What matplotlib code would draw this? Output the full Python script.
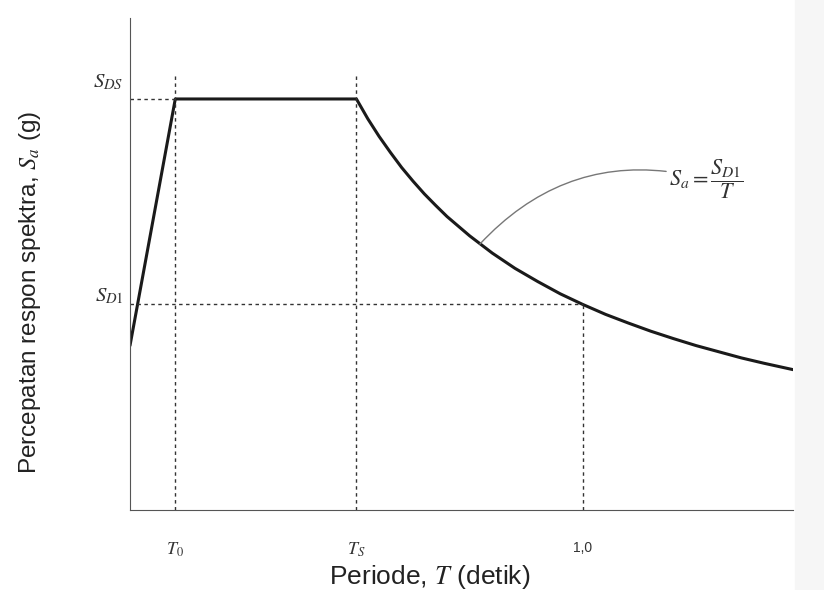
import matplotlib.pyplot as plt
from matplotlib.patches import Rectangle

plt.rcParams['mathtext.fontset'] = 'stix'
plt.rcParams['font.family'] = 'Liberation Sans'

# nilai (SDS = 1, SD1 = 0.5)
periode = [0, 0.1, 0.5, 0.525, 0.55, 0.575, 0.6, 0.625, 0.65, 0.675, 0.7,
           0.75, 0.8, 0.85, 0.9, 0.95, 1.0, 1.05, 1.1, 1.15, 1.2, 1.25, 1.3,
           1.35, 1.4, 1.464]
sa = [0.4, 1.0, 1.0, 0.952, 0.909, 0.870, 0.833, 0.800, 0.769, 0.741, 0.714,
      0.667, 0.625, 0.588, 0.556, 0.526, 0.5, 0.476, 0.455, 0.435, 0.417,
      0.4, 0.385, 0.370, 0.357, 0.3415]

T0 = 0.1
TS = 0.5
T1 = 1.0
SDS = 1.0
SD1 = 0.5

tick_pos = [T0, TS, T1]
tick_lab = ['$T_0$', '$T_S$', '1,0']

fig = plt.figure(figsize=(8.24, 5.9), dpi=100)
fig.patches.append(Rectangle((795 / 824, 0), 1, 1, transform=fig.transFigure,
                             color='#f6f6f6', zorder=-1))
ax = fig.add_axes([130 / 824, 1 - 510 / 590, 663 / 824, 492 / 590])

ax.plot(periode, sa, color='#1a1a1a', lw=2.2, solid_joinstyle='round',
        solid_capstyle='round')

dot = dict(color='#333333', lw=1.0, ls=(0, (2.5, 2.5)))
ax.plot([0, T0], [SDS, SDS], **dot)
ax.plot([T0, T0], [0, 1.058], **dot)
ax.plot([TS, TS], [0, 1.058], **dot)
ax.plot([0, T1], [SD1, SD1], **dot)
ax.plot([T1, T1], [0, SD1], **dot)

ax.set_xlim(0, 1.464)
ax.set_ylim(0, 1.197)
ax.spines['top'].set_visible(False)
ax.spines['right'].set_visible(False)
ax.spines['left'].set_color('#555555')
ax.spines['bottom'].set_color('#555555')
ax.set_yticks([])
ax.set_xticks(tick_pos)
ax.set_xticklabels(tick_lab)
ax.tick_params(axis='x', length=0, pad=22, labelsize=13, colors='#333333')
for lab in ax.get_xticklabels()[2:]:
    lab.set_fontsize(10)

ax.text(-0.014, 1.04, '$S_{DS}$', ha='right', va='center', fontsize=15, color='#333333')
ax.text(-0.014, 0.52, '$S_{D1}$', ha='right', va='center', fontsize=15, color='#333333')

ax.annotate('$S_a = \\dfrac{S_{D1}}{T}$', xy=(0.7726, 0.647), xytext=(1.19, 0.805),
            fontsize=16, color='#333333', va='center', ha='left',
            arrowprops=dict(arrowstyle='-', color='#777777', lw=1.0,
                            shrinkA=0, shrinkB=0,
                            connectionstyle='arc3,rad=0.3'))

fig.text(430 / 824, 1 - 577 / 590, 'Periode, $T$ (detik)', ha='center', va='center',
         fontsize=19, color='#222222')
fig.text(30 / 824, 1 - 292 / 590, 'Percepatan respon spektra, $S_a$ (g)', ha='center',
         va='center', rotation=90, fontsize=17.5, color='#222222')

fig.savefig('out.png', dpi=100)
